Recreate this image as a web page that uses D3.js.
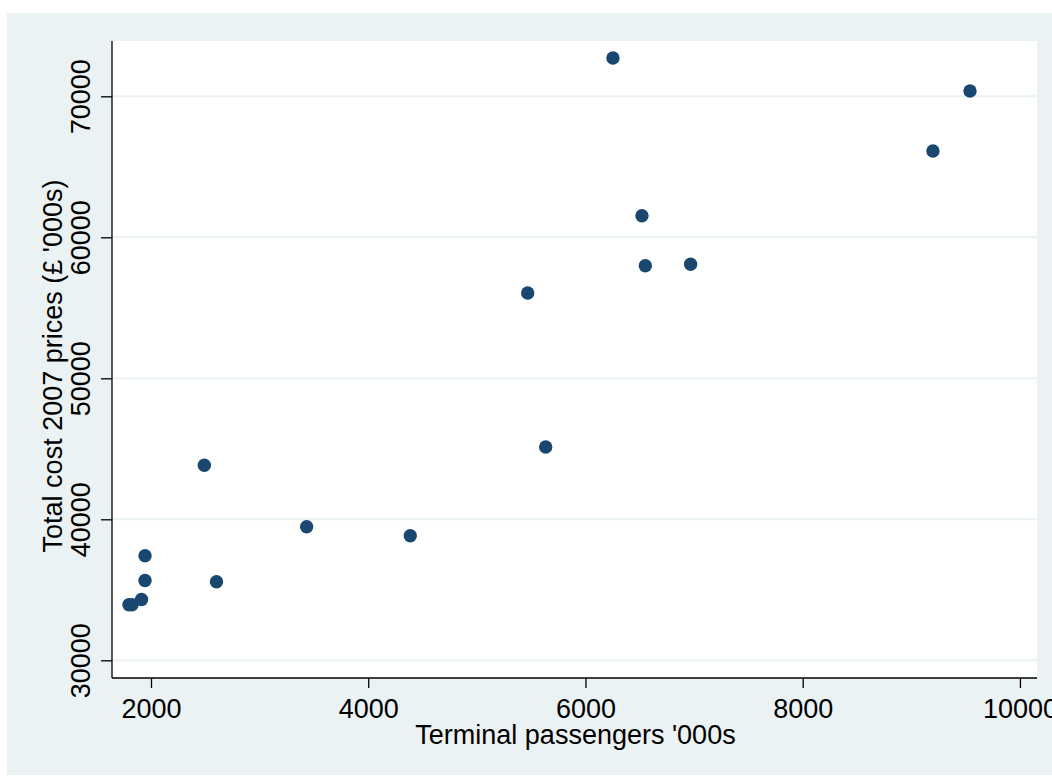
<!DOCTYPE html>
<html>
<head>
<meta charset="utf-8">
<script src="https://cdn.jsdelivr.net/npm/d3@7"></script>
<style>
  html, body { margin: 0; padding: 0; background: #ffffff; }
  svg { display: block; }
  text { font-family: "Liberation Sans", Arial, sans-serif; fill: #000; }
</style>
</head>
<body>
<svg id="chart" width="1052" height="776"></svg>
<script>
// Data
const passengers = [6253, 9540, 9199, 6520, 6551, 6968, 5468, 5634, 2491, 3433, 4387, 1945, 1945, 2603, 1913, 1797, 1825];
const totalCost  = [72716, 70376, 66121, 61532, 57986, 58085, 56050, 45128, 43831, 39476, 38838, 37419, 35660, 35576, 34313, 33944, 33944];
const xTicks = [2000, 4000, 6000, 8000, 10000];
const yTicks = [30000, 40000, 50000, 60000, 70000];
const xTitle = "Terminal passengers '000s";
const yTitle = "Total cost 2007 prices (£ '000s)";

const W = 1052, H = 776;
const plot = { left: 112, right: 1037, top: 41, bottom: 678 };
const bg = "#eaf2f3";
const dotColor = "#1a476f";
const fontSize = 27;

const svg = d3.select("#chart");

// outer background
svg.append("rect").attr("x", 7).attr("y", 13).attr("width", W - 7).attr("height", 762).attr("fill", bg);
// plot region
svg.append("rect").attr("x", plot.left).attr("y", plot.top)
  .attr("width", plot.right - plot.left).attr("height", plot.bottom - plot.top).attr("fill", "#ffffff");

const x = d3.scaleLinear().domain([1641, 10157]).range([plot.left, plot.right]);
const y = d3.scaleLinear().domain([28745, 73922]).range([plot.bottom, plot.top]);

// gridlines
svg.append("g").selectAll("line").data(yTicks).join("line")
  .attr("x1", plot.left).attr("x2", plot.right)
  .attr("y1", d => y(d)).attr("y2", d => y(d))
  .attr("stroke", bg).attr("stroke-width", 2);

// x axis
const xAxis = svg.append("g").attr("transform", `translate(0,${plot.bottom})`)
  .call(d3.axisBottom(x).tickValues(xTicks).tickSize(10).tickFormat(d3.format("d")));
xAxis.select(".domain").attr("stroke", "#000").attr("stroke-width", 1.3)
  .attr("d", `M${plot.left},0H${plot.right}`);
xAxis.selectAll(".tick line").attr("stroke", "#000").attr("stroke-width", 1.3);
xAxis.selectAll(".tick text").attr("font-size", fontSize).attr("font-family", "Liberation Sans, Arial, sans-serif").attr("fill", "#000")
  .attr("dy", null).attr("y", 40);

// y axis
const yAxis = svg.append("g").attr("transform", `translate(${plot.left},0)`)
  .call(d3.axisLeft(y).tickValues(yTicks).tickSize(11).tickFormat(d3.format("d")));
yAxis.select(".domain").attr("stroke", "#000").attr("stroke-width", 1.3)
  .attr("d", `M0,${plot.top}V${plot.bottom}`);
yAxis.selectAll(".tick line").attr("stroke", "#000").attr("stroke-width", 1.3);
yAxis.selectAll(".tick text")
  .attr("font-size", fontSize).attr("font-family", "Liberation Sans, Arial, sans-serif").attr("fill", "#000")
  .attr("x", null).attr("dy", null)
  .attr("text-anchor", "middle")
  .attr("transform", "translate(-22,0) rotate(-90)");

// axis titles
svg.append("text").attr("x", 575.5).attr("y", 744).attr("text-anchor", "middle")
  .attr("font-size", fontSize).text(xTitle);
svg.append("text").attr("transform", `translate(62,366) rotate(-90)`).attr("text-anchor", "middle")
  .attr("font-size", fontSize).text(yTitle);

// points
svg.append("g").selectAll("circle").data(passengers.map((p, i) => [p, totalCost[i]])).join("circle")
  .attr("cx", d => x(d[0])).attr("cy", d => y(d[1])).attr("r", 6.7)
  .attr("fill", dotColor);
</script>
</body>
</html>
